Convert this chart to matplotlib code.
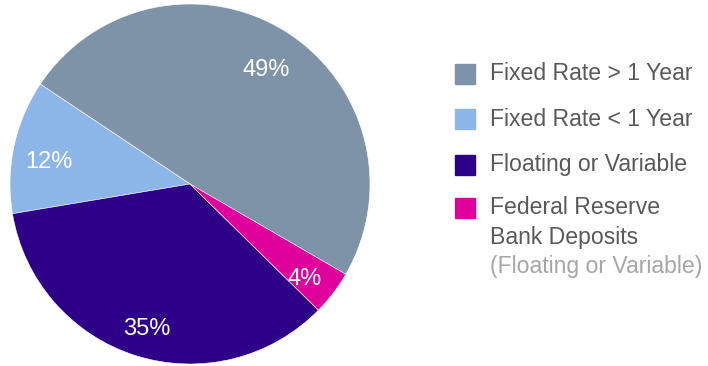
import matplotlib
matplotlib.use("Agg")
import matplotlib.pyplot as plt
from matplotlib.patches import Rectangle

plt.rcParams['font.family'] = ['Liberation Sans', 'DejaVu Sans']

categorias = ['Fixed Rate > 1 Year', 'Fixed Rate < 1 Year', 'Floating or Variable',
              'Federal Reserve\nBank Deposits']
nota_ultima = '(Floating or Variable)'
valores = [49, 12, 35, 4]
cores = ['#7F93A8', '#8DB6E8', '#2E0087', '#E0009B']

fig = plt.figure(figsize=(7.08, 3.66), dpi=100)
ax = fig.add_axes([10 / 708, 2 / 366, 360 / 708, 360 / 366])

fatias, textos, pcts = ax.pie(valores, colors=cores, startangle=-30.1, counterclock=True,
                              autopct='%d%%', pctdistance=0.8,
                              wedgeprops=dict(linewidth=0.4, edgecolor='white'),
                              textprops=dict(color='white', fontsize=17))
# desce um pouco os rotulos de porcentagem
for t in pcts:
    x, y = t.get_position()
    t.set_position((x, y - 0.045))
ax.set_xlim(-1, 1)
ax.set_ylim(-1, 1)
ax.set_aspect('equal')

# legenda desenhada a mao, com a nota cinza clara na ultima entrada
tam = 16.6
linhas_y = [74, 119, 165, 208]
for cor, nome, y in zip(cores, categorias, linhas_y):
    fig.patches.append(Rectangle((455 / 708, 1 - (y + 10) / 366), 20 / 708, 20 / 366,
                                 transform=fig.transFigure, color=cor))
    fig.text(490 / 708, 1 - y / 366, nome.split('\n')[0], color='#595959',
             fontsize=tam, va='center', ha='left')
    if '\n' in nome:
        fig.text(490 / 708, 1 - (y + 29) / 366, nome.split('\n')[1], color='#595959',
                 fontsize=tam, va='center', ha='left')
fig.text(490 / 708, 1 - 266 / 366, nota_ultima, color='#A6A6A6',
         fontsize=tam, va='center', ha='left')

fig.savefig('out.png', dpi=100)
